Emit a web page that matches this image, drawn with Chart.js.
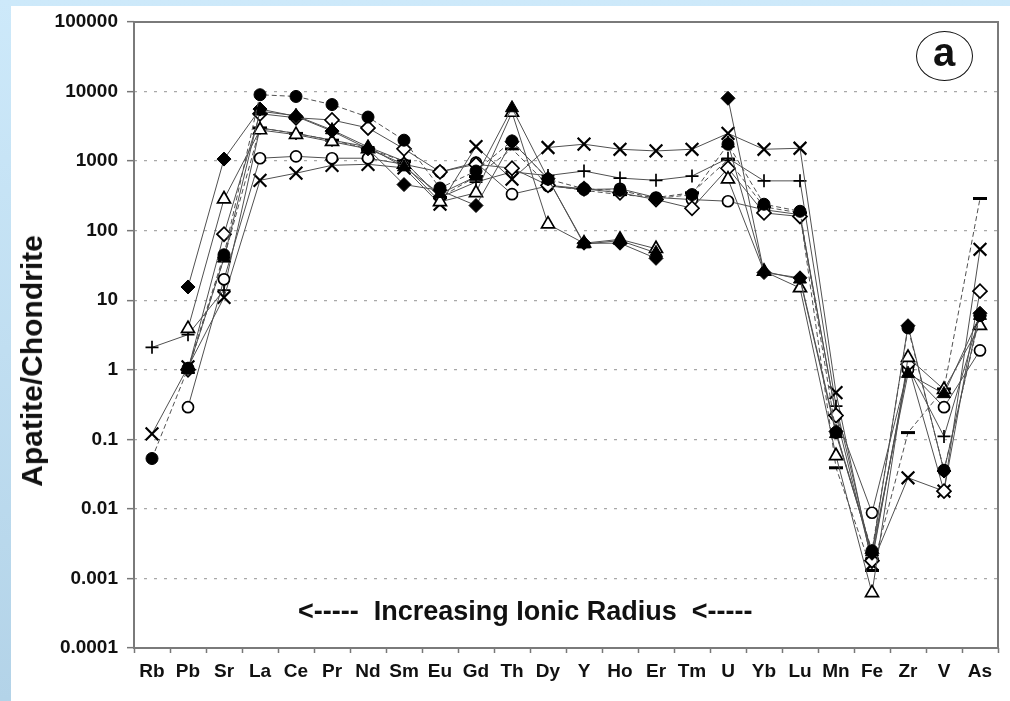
<!DOCTYPE html>
<html><head><meta charset="utf-8">
<script src="https://cdn.jsdelivr.net/npm/chart.js@4.4.0/dist/chart.umd.min.js"></script>
<style>
html,body{margin:0;padding:0;}
body{width:1010px;height:701px;position:relative;overflow:hidden;background:linear-gradient(#cde9fa,#b3d3e8);}
#white{position:absolute;left:11px;top:6px;right:0;bottom:0;background:#fff;}
canvas{position:absolute;left:0;top:0;}
.note{position:absolute;font-family:"Liberation Sans",Arial,sans-serif;font-weight:bold;color:#111;white-space:pre;line-height:1;}
#ytitle{left:32px;top:361px;font-size:30px;transform:translate(-50%,-50%) rotate(-90deg);}
#radius{left:298px;top:598px;font-size:27px;}
#circ{position:absolute;left:916px;top:31px;width:55px;height:48px;border:1.5px solid #111;border-radius:50%;}
#lbl{left:944px;top:54px;font-size:40px;transform:translate(-50%,-55%);}
</style></head>
<body>
<div id="white"></div>
<canvas id="c" width="1010" height="701"></canvas>
<div class="note" id="ytitle">Apatite/Chondrite</div>
<div class="note" id="radius">&lt;-----  Increasing Ionic Radius  &lt;-----</div>
<div id="circ"></div>
<div class="note" id="lbl">a</div>
<script>
const categories = ['Rb','Pb','Sr','La','Ce','Pr','Nd','Sm','Eu','Gd','Th','Dy','Y','Ho','Er','Tm','U','Yb','Lu','Mn','Fe','Zr','V','As'];
const yTickValues = [0.0001, 0.001, 0.01, 0.1, 1, 10, 100, 1000, 10000, 100000];

const filledCircle  = [0.053, 1.05, 45, 9000, 8500, 6500, 4300, 2000, 410, 720, 1950, 550, 400, 380, 290, 330, 1750, 240, 190, 0.125, 0.0025, 4.0, 0.036, 6.0];
const filledDiamond = [null, 15.5, 1070, 5600, 4400, 2700, 1500, 460, 380, 230, 1900, 560, 66, 66, 40, null, 8000, 25, 21, 0.13, 0.0023, 4.3, 0.035, 6.5];
const filledTriangle= [null, 1.0, 40, 5200, 4500, 2800, 1600, 820, 340, 600, 5800, 560, 64, 72, 48, null, 1800, 26, 20, 0.12, 0.0024, 0.88, 0.45, 6.0];
const openTriangle  = [null, 3.9, 285, 2800, 2400, 1900, 1500, 900, 260, 350, 5000, 124, 66, 75, 55, null, 550, 26, 15, 0.058, 0.00062, 1.5, 0.52, 4.3];
const openDiamond   = [null, 1.0, 89, 4800, 4200, 3900, 3000, 1500, 700, 900, 790, 450, 400, 350, 280, 210, 790, 180, 160, 0.22, 0.0018, 1.2, 0.018, 13.5];
const openCircle    = [null, 0.29, 20, 1100, 1170, 1100, 1100, 900, 700, 950, 335, 440, 390, 400, 300, 280, 265, 200, 170, 0.22, 0.0088, 1.0, 0.29, 1.9];
const crossSeries   = [0.12, 1.1, 11, 530, 670, 870, 900, 800, 240, 1620, 550, 1570, 1750, 1480, 1400, 1480, 2500, 1480, 1530, 0.47, 0.0016, 0.028, 0.018, 54];
const plusSeries    = [2.1, 3.2, 14, 3000, 2500, 2000, 1600, 1000, 300, 500, 700, 620, 720, 570, 530, 610, 1100, 520, 520, 0.3, 0.002, 1.1, 0.11, 6.0];
const dashSeries    = [null, 1.0, 40, 3000, 2500, 2000, 1500, 1000, 300, 600, 1500, 450, 380, 330, 300, 350, 1050, 220, 180, 0.039, 0.0013, 0.125, 0.53, 290];

function ds(label, data, shape, filled, r, bw, dashed){
  return {
    label, data,
    borderColor:'#505050', borderWidth:1, borderDash: dashed ? [5,3] : [],
    pointStyle: shape, pointRadius:r, pointBorderWidth:bw,
    pointBackgroundColor: filled ? '#000' : '#fff', pointBorderColor:'#000',
    fill:false, tension:0, spanGaps:false
  };
}
const datasets = [
  ds('filled circle', filledCircle, 'circle', true, 6, 1, true),
  ds('filled diamond', filledDiamond, 'rectRot', true, 7, 1, false),
  ds('filled triangle', filledTriangle, 'triangle', true, 7.5, 1, false),
  ds('open triangle', openTriangle, 'triangle', false, 7.5, 1.7, false),
  ds('open diamond', openDiamond, 'rectRot', false, 7, 1.7, false),
  ds('open circle', openCircle, 'circle', false, 5.5, 1.7, false),
  ds('cross', crossSeries, 'crossRot', false, 9, 2.2, false),
  ds('plus', plusSeries, 'cross', false, 6.5, 1.7, false),
  ds('dash', dashSeries, 'line', false, 7, 3, true)
];

const framePlugin = {
  id:'frame',
  beforeDatasetsDraw(chart){
    const a = chart.chartArea, ctx = chart.ctx;
    ctx.save(); ctx.strokeStyle='#7a7a7a'; ctx.lineWidth=2; ctx.setLineDash([]);
    ctx.strokeRect(a.left, a.top, a.right-a.left, a.bottom-a.top);
    ctx.restore();
  }
};

const FONT = '"Liberation Sans", Arial, sans-serif';
new Chart(document.getElementById('c'), {
  type:'line',
  data:{labels:categories, datasets},
  options:{
    responsive:false, animation:false, events:[],
    layout:{padding:{left:0, top:22, right:12, bottom:0}},
    plugins:{legend:{display:false}, tooltip:{enabled:false}},
    scales:{
      x:{
        type:'category', offset:true,
        grid:{offset:true, drawOnChartArea:false, drawTicks:true, tickLength:5, tickColor:'#777', tickWidth:1.5},
        border:{display:false},
        ticks:{font:{family:FONT, size:19, weight:'bold'}, color:'#111', padding:7, maxRotation:0, autoSkip:false},
        afterFit(s){ s.height = 53; }
      },
      y:{
        type:'logarithmic', min:0.0001, max:100000,
        afterBuildTicks(s){ s.ticks = yTickValues.map(v=>({value:v, major:true})); },
        grid:{color:'#a8a8a8', lineWidth:1.3, drawTicks:true, tickLength:7, tickColor:'#777', tickBorderDash:[], tickWidth:1.5},
        border:{display:false, dash:[3,7]},
        ticks:{font:{family:FONT, size:19, weight:'bold'}, color:'#111', padding:9,
               callback:(v)=> String(v)},
        afterFit(s){ s.width = 134; }
      }
    }
  },
  plugins:[framePlugin]
});
</script>
</body></html>
